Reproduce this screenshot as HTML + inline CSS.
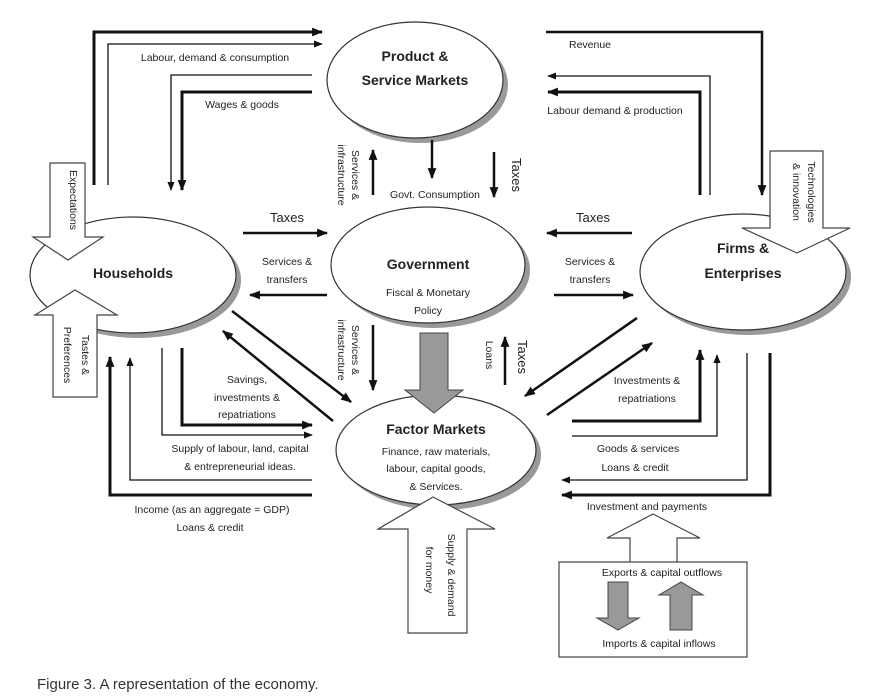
<!DOCTYPE html>
<html><head><meta charset="utf-8"><style>
body{margin:0;background:#fff}
svg{display:block}
text{font-family:"Liberation Sans",sans-serif;fill:#222}
.s{font-size:10.5px}
.t{font-size:14px;font-weight:bold;text-anchor:middle}
.m{text-anchor:middle}
</style></head><body>
<svg width="887" height="699" viewBox="0 0 887 699">
<defs>
<marker id="a" viewBox="0 0 10 10" refX="9" refY="5" markerUnits="userSpaceOnUse" markerWidth="11" markerHeight="11" orient="auto"><path d="M0,1L10,5L0,9z" fill="#111"/></marker>
<marker id="b" viewBox="0 0 10 10" refX="9" refY="5" markerUnits="userSpaceOnUse" markerWidth="9" markerHeight="9" orient="auto"><path d="M0,1L10,5L0,9z" fill="#111"/></marker>
</defs>
<g fill="#999">
<ellipse cx="420" cy="85" rx="88" ry="58"/>
<ellipse cx="433" cy="270" rx="97" ry="58"/>
<ellipse cx="138" cy="280" rx="103" ry="58"/>
<ellipse cx="748" cy="277" rx="103" ry="58"/>
<ellipse cx="441" cy="455" rx="100" ry="55"/>
</g>
<g fill="#fff" stroke="#333" stroke-width="1.2">
<ellipse cx="415" cy="80" rx="88" ry="58"/>
<ellipse cx="428" cy="265" rx="97" ry="58"/>
<ellipse cx="133" cy="275" rx="103" ry="58"/>
<ellipse cx="743" cy="272" rx="103" ry="58"/>
<ellipse cx="436" cy="450" rx="100" ry="55"/>
</g>
<g fill="#fff" stroke="#444" stroke-width="1.2">
<path d="M50,163H85V237H103L68,260L33,237H50Z"/>
<path d="M53,397V315H35L75,290L117,315H97V397Z"/>
<path d="M770,151H823V228H850L797,253L742,228H770Z"/>
<path d="M408,633V529H378L433,497L495,529H467V633Z"/>
<path d="M630,562V538H607L653,514L700,538H677V562"/>
<rect x="559" y="562" width="188" height="95"/>
</g>
<g fill="#999" stroke="#444" stroke-width="1">
<path d="M420,333H448V390H463L434,413L405,390H420Z"/>
<path d="M608,582H628V618H639L618,630L597,618H608Z"/>
<path d="M670,630V595H659L681,582L703,595H692V630Z"/>
</g>
<g fill="none" stroke="#111" marker-end="url(#a)">
<path d="M94,185V32H322" stroke-width="3"/>
<path d="M108,185V44H322" stroke-width="1.3" marker-end="url(#b)"/>
<path d="M312,75H171V190" stroke-width="1.3" marker-end="url(#b)"/>
<path d="M312,92H182V190" stroke-width="3"/>
<path d="M546,32H762V195" stroke-width="2.5"/>
<path d="M710,195V76H548" stroke-width="1.3" marker-end="url(#b)"/>
<path d="M700,195V92H548" stroke-width="3"/>
<path d="M243,233H327" stroke-width="2.5"/>
<path d="M327,295H250" stroke-width="2.5"/>
<path d="M632,233H547" stroke-width="2.5"/>
<path d="M554,295H633" stroke-width="2.5"/>
<path d="M373,195V150" stroke-width="2.5"/>
<path d="M432,140V178" stroke-width="2.5"/>
<path d="M494,152V197" stroke-width="2.5"/>
<path d="M373,325V390" stroke-width="2.5"/>
<path d="M505,385V337" stroke-width="2.5"/>
<path d="M232,311L351,402" stroke-width="2.5"/>
<path d="M333,421L223,331" stroke-width="2.5"/>
<path d="M637,318L525,396" stroke-width="2.5"/>
<path d="M547,415L652,343" stroke-width="2.5"/>
<path d="M162,348V435H312" stroke-width="1.3" marker-end="url(#b)"/>
<path d="M182,348V425H312" stroke-width="3"/>
<path d="M312,480H130V358" stroke-width="1.3" marker-end="url(#b)"/>
<path d="M312,495H110V357" stroke-width="3"/>
<path d="M572,421H700V350" stroke-width="3"/>
<path d="M572,436H717V355" stroke-width="1.3" marker-end="url(#b)"/>
<path d="M747,353V480H562" stroke-width="1.3" marker-end="url(#b)"/>
<path d="M770,353V495H562" stroke-width="3"/>
</g>
<text class="t" x="415" y="61">Product &amp;</text>
<text class="t" x="415" y="85">Service Markets</text>
<text class="t" x="428" y="269">Government</text>
<text class="s m" x="428" y="296">Fiscal &amp; Monetary</text>
<text class="s m" x="428" y="314">Policy</text>
<text class="t" x="133" y="278">Households</text>
<text class="t" x="743" y="253">Firms &amp;</text>
<text class="t" x="743" y="278">Enterprises</text>
<text class="t" x="436" y="434">Factor Markets</text>
<text class="s m" x="436" y="455">Finance, raw materials,</text>
<text class="s m" x="436" y="472">labour, capital goods,</text>
<text class="s m" x="436" y="490">&amp; Services.</text>
<text class="s m" x="215" y="61">Labour, demand &amp; consumption</text>
<text class="s m" x="242" y="108">Wages &amp; goods</text>
<text class="s m" x="590" y="48">Revenue</text>
<text class="s m" x="615" y="114">Labour demand &amp; production</text>
<text class="m" x="287" y="222" style="font-size:13px">Taxes</text>
<text class="s m" x="287" y="265">Services &amp;</text>
<text class="s m" x="287" y="283">transfers</text>
<text class="m" x="593" y="222" style="font-size:13px">Taxes</text>
<text class="s m" x="590" y="265">Services &amp;</text>
<text class="s m" x="590" y="283">transfers</text>
<text class="s m" x="435" y="198">Govt. Consumption</text>
<text class="s m" transform="translate(352,175) rotate(90)">Services &amp;</text>
<text class="s m" transform="translate(338,175) rotate(90)">infrastructure</text>
<text class="m" transform="translate(512,175) rotate(90)" style="font-size:13px">Taxes</text>
<text class="s m" transform="translate(352,350) rotate(90)">Services &amp;</text>
<text class="s m" transform="translate(338,350) rotate(90)">infrastructure</text>
<text class="s m" transform="translate(486,355) rotate(90)">Loans</text>
<text class="m" transform="translate(518,357) rotate(90)" style="font-size:13px">Taxes</text>
<text class="s m" transform="translate(70,200) rotate(90)">Expectations</text>
<text class="s m" transform="translate(82,355) rotate(90)">Tastes &amp;</text>
<text class="s m" transform="translate(64,355) rotate(90)">Preferences</text>
<text class="s m" transform="translate(808,192) rotate(90)">Technologies</text>
<text class="s m" transform="translate(793,192) rotate(90)">&amp; innovation</text>
<text class="s m" transform="translate(448,575) rotate(90)">Supply &amp; demand</text>
<text class="s m" transform="translate(426,570) rotate(90)">for money</text>
<text class="s m" x="247" y="383">Savings,</text>
<text class="s m" x="247" y="401">investments &amp;</text>
<text class="s m" x="247" y="418">repatriations</text>
<text class="s m" x="240" y="452">Supply of labour, land, capital</text>
<text class="s m" x="240" y="470">&amp; entrepreneurial ideas.</text>
<text class="s m" x="212" y="513">Income (as an aggregate = GDP)</text>
<text class="s m" x="210" y="531">Loans &amp; credit</text>
<text class="s m" x="647" y="384">Investments &amp;</text>
<text class="s m" x="647" y="402">repatriations</text>
<text class="s m" x="638" y="452">Goods &amp; services</text>
<text class="s m" x="635" y="471">Loans &amp; credit</text>
<text class="s m" x="647" y="510">Investment and payments</text>
<text class="s m" x="662" y="576">Exports &amp; capital outflows</text>
<text class="s m" x="659" y="647">Imports &amp; capital inflows</text>
<text x="37" y="689" style="font-size:15px;fill:#333">Figure 3. A representation of the economy.</text>
</svg>
</body></html>
